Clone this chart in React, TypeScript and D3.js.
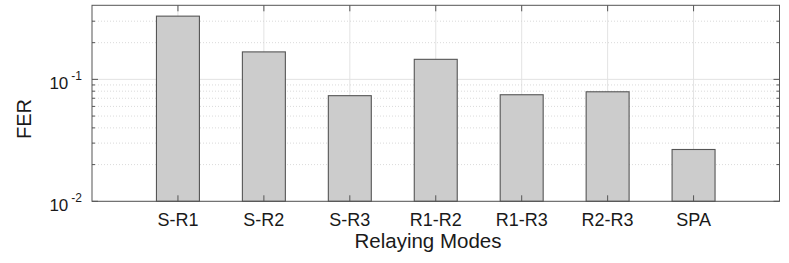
import React, { useEffect, useRef } from "react";
import * as d3 from "d3";

const categories = ["S-R1", "S-R2", "S-R3", "R1-R2", "R1-R3", "R2-R3", "SPA"];
const ferValues = [0.330, 0.168, 0.0735, 0.146, 0.0748, 0.0791, 0.0266];
const yMajorTicks = [0.01, 0.1];
const yMinorTicks = [0.02, 0.03, 0.04, 0.05, 0.06, 0.07, 0.08, 0.09, 0.2, 0.3];
const yDomain = [0.01, 0.405];
const xLabel = "Relaying Modes";
const yLabel = "FER";

const W = 789, H = 263;
const M = { left: 92, right: 9.5, top: 5.3, bottom: 61.7 };

export default function App() {
  const ref = useRef<SVGSVGElement>(null);
  useEffect(() => {
    const svg = d3.select(ref.current);
    svg.selectAll("*").remove();
    const x0 = M.left, x1 = W - M.right, y0 = H - M.bottom, y1 = M.top;
    const x = d3.scaleLinear().domain([0, categories.length + 1]).range([x0, x1]);
    const y = d3.scaleLog().domain(yDomain).range([y0, y1]);
    const font = "'Liberation Sans', Arial, Helvetica, sans-serif";
    const g = svg.append("g");

    // grids
    categories.forEach((_, i) => {
      g.append("line").attr("x1", x(i + 1)).attr("x2", x(i + 1)).attr("y1", y0).attr("y2", y1)
        .attr("stroke", "#e3e3e3").attr("stroke-width", 1);
    });
    yMinorTicks.forEach((v) => {
      g.append("line").attr("x1", x0).attr("x2", x1).attr("y1", y(v)).attr("y2", y(v))
        .attr("stroke", "#d0d0d0").attr("stroke-width", 0.8).attr("stroke-dasharray", "1,2");
    });
    yMajorTicks.forEach((v) => {
      g.append("line").attr("x1", x0).attr("x2", x1).attr("y1", y(v)).attr("y2", y(v))
        .attr("stroke", "#e3e3e3").attr("stroke-width", 1);
    });

    // bars
    const bw = (x(1) - x(0)) * 0.5;
    categories.forEach((c, i) => {
      const top = y(ferValues[i]);
      g.append("rect").attr("x", x(i + 1) - bw / 2).attr("y", top).attr("width", bw)
        .attr("height", y0 - top).attr("fill", "#cccccc").attr("stroke", "#555555").attr("stroke-width", 1.1);
    });

    // box
    g.append("rect").attr("x", x0).attr("y", y1).attr("width", x1 - x0).attr("height", y0 - y1)
      .attr("fill", "none").attr("stroke", "#555555").attr("stroke-width", 1);

    // ticks x
    categories.forEach((c, i) => {
      const xx = x(i + 1);
      g.append("line").attr("x1", xx).attr("x2", xx).attr("y1", y0).attr("y2", y0 - 6).attr("stroke", "#555");
      g.append("line").attr("x1", xx).attr("x2", xx).attr("y1", y1).attr("y2", y1 + 6).attr("stroke", "#555");
      g.append("text").attr("x", xx).attr("y", y0 + 24.5).attr("text-anchor", "middle")
        .attr("font-family", font).attr("font-size", 18).attr("fill", "#1a1a1a").text(c);
    });
    // ticks y
    yMajorTicks.forEach((v) => {
      const yy = y(v);
      g.append("line").attr("x1", x0).attr("x2", x0 + 6).attr("y1", yy).attr("y2", yy).attr("stroke", "#555");
      g.append("line").attr("x1", x1).attr("x2", x1 - 6).attr("y1", yy).attr("y2", yy).attr("stroke", "#555");
      const exp = Math.round(Math.log10(v));
      const t = g.append("text").attr("x", x0 - 10).attr("y", yy + 10).attr("text-anchor", "end")
        .attr("font-family", font).attr("font-size", 17).attr("fill", "#1a1a1a");
      t.append("tspan").text("10");
      t.append("tspan").attr("dx", 3).attr("dy", -9.5).attr("font-size", 12).text(String(exp));
    });
    yMinorTicks.forEach((v) => {
      const yy = y(v);
      g.append("line").attr("x1", x0).attr("x2", x0 + 3).attr("y1", yy).attr("y2", yy).attr("stroke", "#555");
      g.append("line").attr("x1", x1).attr("x2", x1 - 3).attr("y1", yy).attr("y2", yy).attr("stroke", "#555");
    });

    g.append("text").attr("x", 428).attr("y", 248).attr("text-anchor", "middle")
      .attr("font-family", font).attr("font-size", 20.5).attr("fill", "#1a1a1a").text(xLabel);
    g.append("text").attr("transform", `translate(31,119) rotate(-90)`)
      .attr("text-anchor", "middle").attr("font-family", font).attr("font-size", 20)
      .attr("fill", "#1a1a1a").text(yLabel);
  }, []);
  return (
    <svg ref={ref} width={W} height={H} style={{ position: "absolute", left: 0, top: 0, background: "#fff" }} />
  );
}
